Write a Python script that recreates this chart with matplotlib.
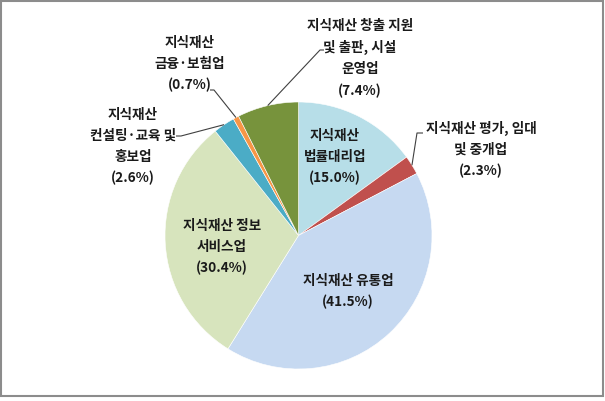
import matplotlib
matplotlib.use("Agg")
import matplotlib.pyplot as plt
import numpy as np

plt.rcParams['font.family'] = ['Noto Sans CJK KR', 'DejaVu Sans']

labels = ["지식재산\n법률대리업", "지식재산 평가, 임대\n및 중개업", "지식재산 유통업",
          "지식재산 정보\n서비스업", "지식재산\n컨설팅·교육 및\n홍보업", "지식재산\n금융·보험업",
          "지식재산 창출 지원\n및 출판, 시설\n운영업"]
values = [15.0, 2.3, 41.5, 30.4, 2.6, 0.7, 7.4]
colors = ["#B7DEE8", "#C0504D", "#C6D9F1", "#D7E4BD", "#4BACC6", "#F79646", "#77933C"]

W, H = 605, 401
fig = plt.figure(figsize=(W / 100, H / 100), dpi=100)
ax = fig.add_axes([0, 0, 1, 1])

cx, cy, r = 298.5, H - 235.5, 133.5
wedges, _ = ax.pie(values, colors=colors, startangle=90, counterclock=False,
                   center=(cx, cy), radius=r, frame=True,
                   wedgeprops=dict(linewidth=0.4, edgecolor='white'))
ax.set_xlim(0, W)
ax.set_ylim(0, H)
ax.set_aspect('equal')
ax.axis('off')

# label positions (pixel coords, y from top), inside flag, elbow, line end
layout = [
    dict(pos=(335, 129), inside=True),
    dict(pos=(481, 121), inside=False, elbow=(417, 133), end=(423, 133)),
    dict(pos=(348, 274), inside=True),
    dict(pos=(222, 219), inside=True),
    dict(pos=(133, 108), inside=False, elbow=(181, 136), end=(176, 136)),
    dict(pos=(190, 36), inside=False, elbow=(214, 90), end=(210, 90)),
    dict(pos=(360, 19), inside=False, elbow=(320, 50), end=(324, 50)),
]

fs = 9.8
for w, lab, v, lo in zip(wedges, labels, values, layout):
    txt = f"{lab}\n({v:.1f}%)"
    x, y = lo['pos']
    ax.text(x, H - y, txt, ha='center', va='top', fontsize=fs, fontweight='bold',
            color='#1a1a1a', linespacing=1.62)
    if not lo['inside']:
        ang = np.deg2rad((w.theta1 + w.theta2) / 2)
        sx, sy = cx + r * np.cos(ang), cy + r * np.sin(ang)
        ex, ey = lo['elbow']
        fx, fy = lo['end']
        ax.plot([sx, ex, fx], [sy, H - ey, H - fy], color='#404040', lw=0.8,
                solid_capstyle='butt')

# outer frame
fig.patches.append(plt.Rectangle((0.5 / W, 1 - 396 / H), 602.5 / W, 395.5 / H,
                                 transform=fig.transFigure, fill=False,
                                 edgecolor='#8c8c8c', linewidth=1.5))

fig.savefig("out.png", dpi=100)
